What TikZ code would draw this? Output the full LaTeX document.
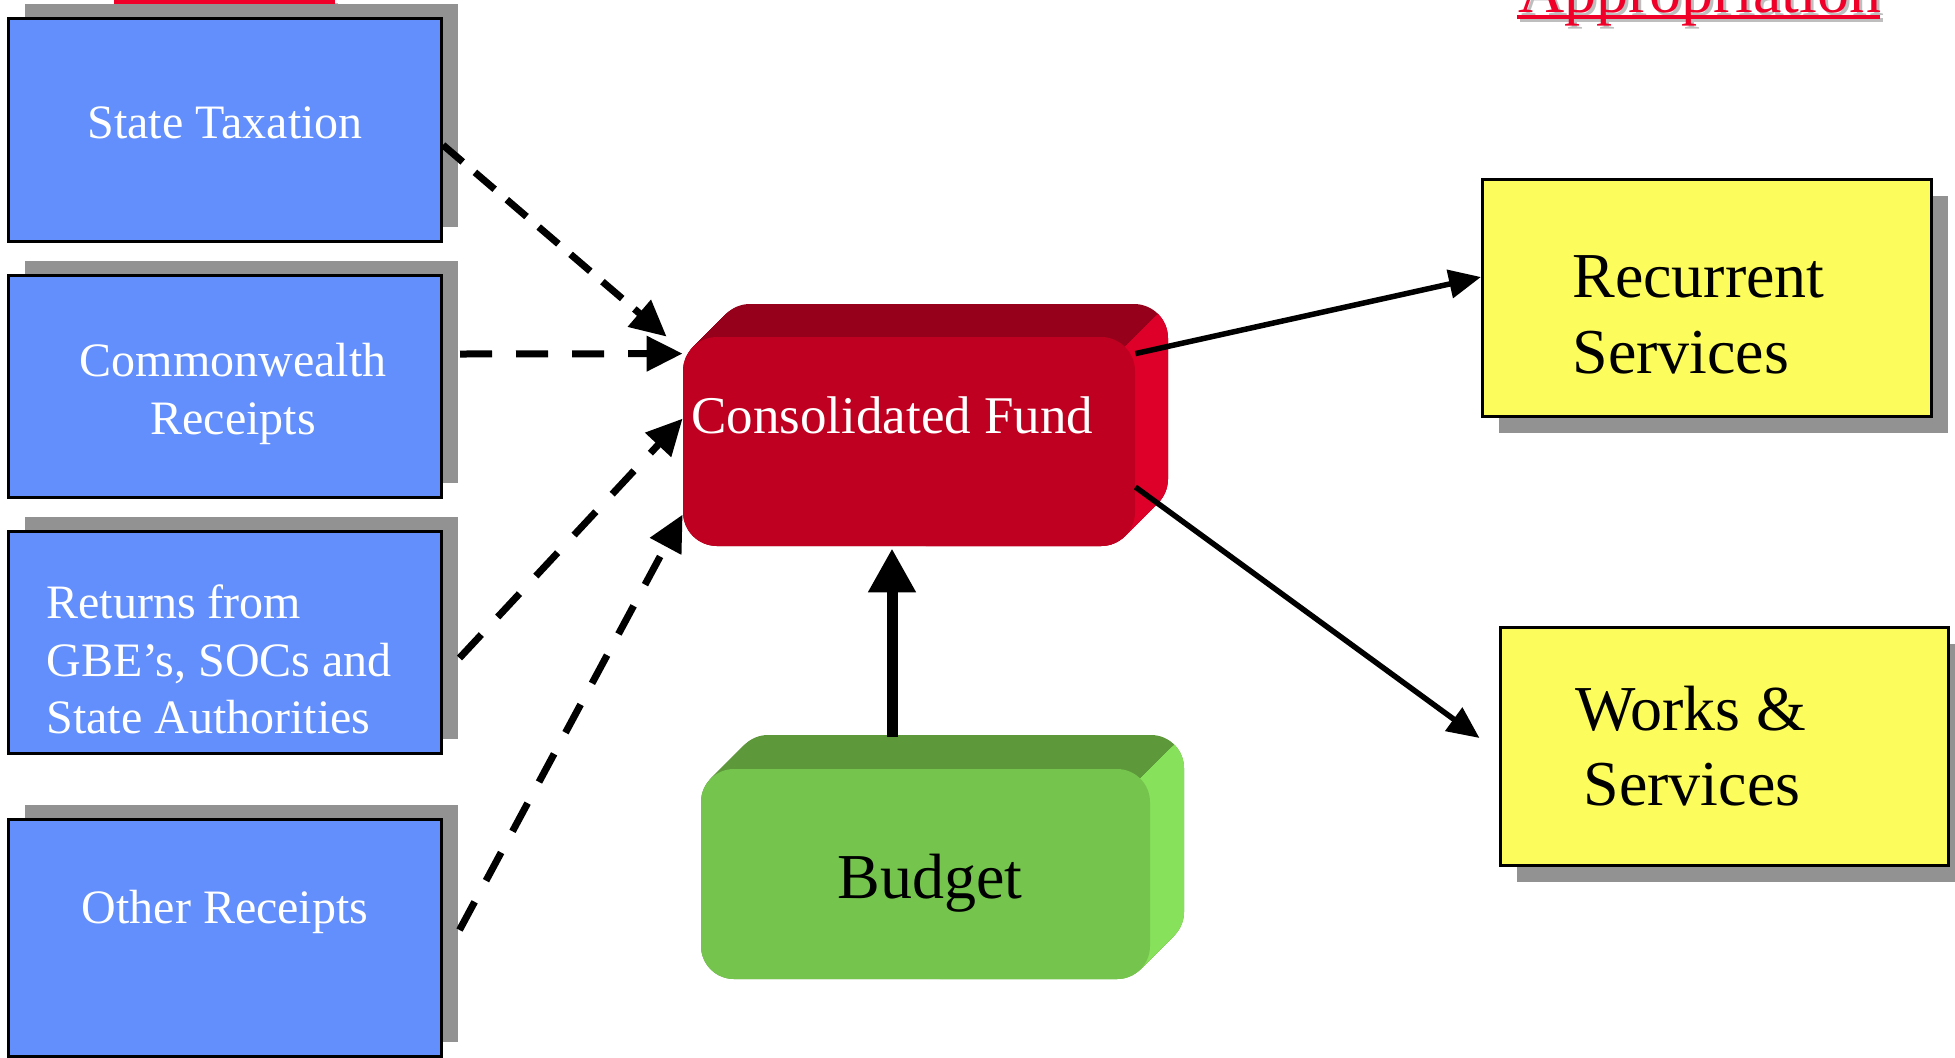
\documentclass[tikz,border=0pt]{standalone}
\usepackage{fontspec}
\setmainfont{Liberation Serif}
\usetikzlibrary{arrows.meta,shadows,calc}
\definecolor{boxblue}{RGB}{99,143,252}
\definecolor{boxyellow}{RGB}{252,252,92}
\definecolor{shgray}{RGB}{146,146,146}
\definecolor{cffront}{RGB}{192,0,32}
\definecolor{cftop}{RGB}{150,0,26}
\definecolor{cfside}{RGB}{222,0,40}
\definecolor{budfront}{RGB}{117,196,78}
\definecolor{budtop}{RGB}{93,152,58}
\definecolor{budside}{RGB}{135,225,90}
\definecolor{titlered}{RGB}{240,0,40}
\definecolor{titleshadow}{RGB}{190,190,190}
\begin{document}
\begin{tikzpicture}[x=0.5pt,y=-0.5pt,
  srcbox/.style={draw=black, line width=1.5pt, fill=boxblue, minimum width=216.5pt, minimum height=111pt, inner sep=0pt,
    drop shadow={shadow xshift=8pt, shadow yshift=7.5pt, fill=shgray, opacity=1}},
  outbox/.style={draw=black, line width=1.5pt, fill=boxyellow, inner sep=0pt,
    drop shadow={shadow xshift=8pt, shadow yshift=-8pt, fill=shgray, opacity=1}},
  srctext/.style={text=white, inner sep=0pt, font=\fontsize{24pt}{28.75pt}\selectfont},
  bigtext/.style={text=black, inner sep=0pt, font=\fontsize{32pt}{38pt}\selectfont},
  titletext/.style={inner sep=0pt, anchor=base west, font=\fontsize{32pt}{38pt}\selectfont},
  dasharrow/.style={line width=3.5pt, dash pattern=on 16pt off 12pt, -{Triangle[length=18pt,width=17pt]}},
  dasharrowst/.style={line width=3.5pt, dash pattern=on 13pt off 8pt, -{Triangle[length=18pt,width=17pt]}},
  outarrow/.style={line width=2.75pt, -{Triangle[length=16pt,width=14pt]}},
  budarrow/.style={line width=5.5pt, -{Triangle[length=22pt,width=22.5pt]}}
]
\useasboundingbox (0,0) rectangle (1955,1057);
\fill[white] (0,0) rectangle (1955,1057);

% titles (partly cut by the page edge)
\node[titletext, text=titleshadow] (rcpshadow) at (117,0) {Receipts};
\fill[titleshadow] (117,3) rectangle (338,7);
\node[titletext, text=titlered] (rcptitle) at (114,-3) {Receipts};
\fill[titlered] (114,0) rectangle (335,4);

\node[titletext, text=titleshadow] (appshadow) at (1521,15) {Appropriation};
\fill[titleshadow] (1520,18) rectangle (1883,22);
\node[titletext, text=titlered] (apptitle) at (1518,12) {Appropriation};
\fill[titlered] (1517,15) rectangle (1880,19);

% source boxes
\node[srcbox, minimum height=111.5pt] (st) at (225,130) {};
\node[srcbox] (cw) at (225,386.5) {};
\node[srcbox] (ret) at (225,642.5) {};
\node[srcbox, minimum height=118.5pt] (oth) at (225,938) {};

% output boxes
\node[outbox, minimum width=224.5pt, minimum height=118.5pt] (rec) at (1707,298) {};
\node[outbox, minimum width=224pt, minimum height=119pt] (wks) at (1724.5,746.5) {};

% Consolidated Fund 3D block
\foreach \t in {0,...,33} \fill[cftop, rounded corners=17pt] (683+\t,337-\t) rectangle (1135+\t,546-\t);
\begin{scope}
  \clip (1525,-53) -- (725,747) -- (1600,747) -- (1600,-53) -- cycle;
  \foreach \t in {0,...,33} \fill[cfside, rounded corners=17pt] (683+\t,337-\t) rectangle (1135+\t,546-\t);
\end{scope}
\node[fill=cffront, rounded corners=17pt, minimum width=226pt, minimum height=104.5pt, inner sep=0pt] (cf) at (909,441.5) {};

% Budget 3D block
\foreach \t in {0,...,34} \fill[budtop, rounded corners=16.5pt] (701+\t,769-\t) rectangle (1150+\t,979-\t);
\begin{scope}
  \clip (1540,379) -- (740,1179) -- (1700,1179) -- (1700,379) -- cycle;
  \foreach \t in {0,...,34} \fill[budside, rounded corners=16.5pt] (701+\t,769-\t) rectangle (1150+\t,979-\t);
\end{scope}
\node[fill=budfront, rounded corners=16.5pt, minimum width=224.5pt, minimum height=105pt, inner sep=0pt] (bud) at (925.5,874) {};

% connectors
\draw[dasharrowst] ($(st.east)+(0,15)$) -- ($(cf.north west)+(-16,0)$);
\draw[dasharrow] ($(cw.east)+(17,-32.5)$) -- ($(cf.north west)+(0,17)$);
\draw[dasharrow] ($(ret.east)+(16.5,15.5)$) -- ($(cf.north west)+(0,82)$);
\draw[dasharrow] ($(oth.east)+(16.5,-8)$) -- ($(cf.north west)+(0,178)$);
\draw[budarrow] ($(bud.north)+(-33.5,-32)$) -- ($(cf.south)+(-17,2)$);
\draw[outarrow] ($(cf.north east)+(0,17)$) -- ($(rec.west)+(0,-21)$);
\draw[outarrow] ($(cf.east)+(0,45.5)$) -- ($(wks.west)+(-19.5,-8.5)$);

% texts
\node[srctext, anchor=base] (sttext) at (225,138) {State Taxation};
\node[srctext, anchor=base] (cwtext1) at (233,376) {Commonwealth};
\node[srctext, anchor=base] (cwtext2) at (233,434) {Receipts};
\node[srctext, anchor=base west] (rettext1) at (46,618) {Returns from};
\node[srctext, anchor=base west] (rettext2) at (46,676) {GBE’s, SOCs and};
\node[srctext, anchor=base west] (rettext3) at (46,733) {State Authorities};
\node[srctext, anchor=base] (othtext) at (225,923) {Other Receipts};
\node[text=white, inner sep=0pt, anchor=base west, font=\fontsize{26.5pt}{32pt}\selectfont] (cftext) at (691,433) {Consolidated Fund};
\node[bigtext, anchor=base west] (budtext) at (837,898) {Budget};
\node[bigtext, anchor=base west] (rectext1) at (1572,297) {Recurrent};
\node[bigtext, anchor=base west] (rectext2) at (1572,373) {Services};
\node[bigtext, anchor=base] (wkstext1) at (1691,730) {Works \&};
\node[bigtext, anchor=base] (wkstext2) at (1692,805) {Services};
\end{tikzpicture}
\end{document}
